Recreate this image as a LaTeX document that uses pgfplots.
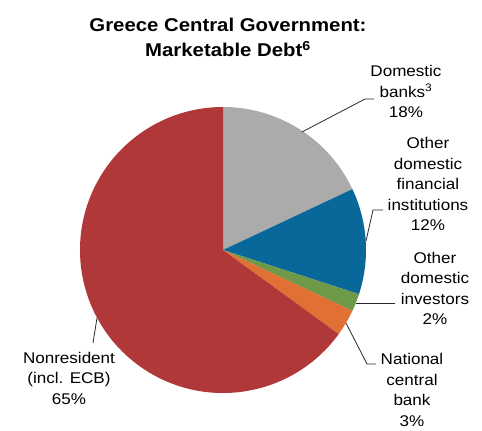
\documentclass[border=0pt]{standalone}
\usepackage{fontspec}
\setmainfont{Liberation Sans}[FakeStretch=1.1]
\usepackage{pgfplots}
\pgfplotsset{compat=1.18}
\definecolor{pgray}{RGB}{171,171,171}
\definecolor{pblue}{RGB}{8,104,153}
\definecolor{pgreen}{RGB}{110,153,72}
\definecolor{porange}{RGB}{224,112,52}
\definecolor{pred}{RGB}{176,56,56}
\definecolor{lead}{RGB}{40,40,40}
\tikzset{lbl/.style={align=center,font=\fontsize{15.5bp}{20.5bp}\selectfont,inner sep=0pt}}
\begin{document}
\begin{tikzpicture}
\begin{axis}[x=1bp,y=1bp,xmin=0,xmax=482,ymin=0,ymax=431,hide axis,clip=false]
% shares (percent): Domestic banks 18, Other domestic financial institutions 12,
% Other domestic investors 2, National central bank 3, Nonresident 65
\pgfplotsextra{
  \foreach \p/\q/\c in {0/18/pgray,18/30/pblue,30/32/pgreen,32/35/porange,35/100/pred}{
    \pgfmathsetmacro\sa{90-3.6*\p}
    \pgfmathsetmacro\ea{90-3.6*\q}
    \fill[\c] (axis cs:223,181) -- ++(\sa:143bp) arc[start angle=\sa,end angle=\ea,radius=143bp] -- cycle;
  }
}
\draw[lead,line width=0.8bp] (axis cs:302,299) -- (axis cs:365,332) -- (axis cs:374,332);
\draw[lead,line width=0.8bp] (axis cs:366,190) -- (axis cs:373,221) -- (axis cs:383,221);
\draw[lead,line width=0.8bp] (axis cs:356,128) -- (axis cs:395,128);
\draw[lead,line width=0.8bp] (axis cs:346,108) -- (axis cs:367,67) -- (axis cs:376,67);
\draw[lead,line width=0.8bp] (axis cs:97,113) -- (axis cs:93,88);
\node[align=center,inner sep=0pt,font=\bfseries\fontsize{18.5bp}{25bp}\selectfont] at (axis cs:228,393.5) {Greece Central Government:\\Marketable Debt\textsuperscript{6}};
\node[lbl] at (axis cs:406,339.5) {Domestic\\banks\textsuperscript{3}\\18\%};
\node[lbl] at (axis cs:428,247) {Other\\domestic\\financial\\institutions\\12\%};
\node[lbl] at (axis cs:435,142.5) {Other\\domestic\\investors\\2\%};
\node[lbl] at (axis cs:412,41) {National\\central\\bank\\3\%};
\node[lbl] at (axis cs:69,53) {Nonresident\\(incl. ECB)\\65\%};
\end{axis}
\path (0,0) rectangle (482bp,431bp);
\end{tikzpicture}
\end{document}
